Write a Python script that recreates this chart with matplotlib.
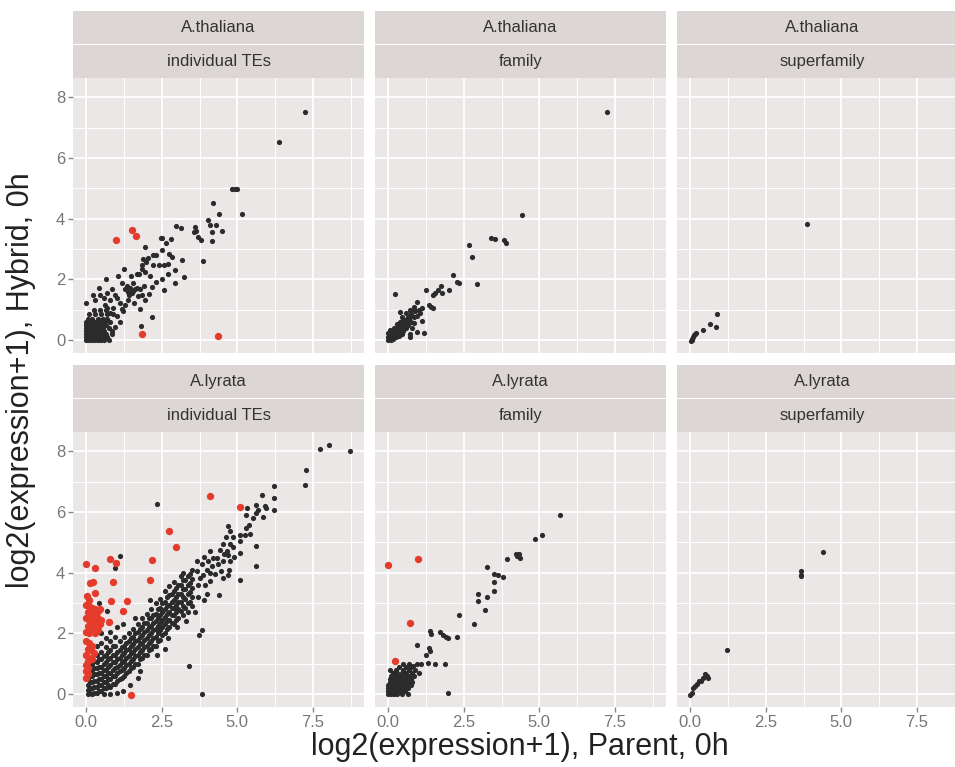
import numpy as np
import matplotlib
matplotlib.use("Agg")
import matplotlib.pyplot as plt

plt.rcParams["font.family"] = ["Liberation Sans", "DejaVu Sans"]

# ============================================
# Data
# ============================================
species = ["A.thaliana", "A.lyrata"]
levels = ["individual TEs", "family", "superfamily"]

x_ticks = [0.0, 2.5, 5.0, 7.5]
x_tick_labels = ["0.0", "2.5", "5.0", "7.5"]
y_ticks = [0, 2, 4, 6, 8]
y_tick_labels = ["0", "2", "4", "6", "8"]

# A.thaliana / individual TEs
ath_te_black = [
    (7.23, 7.52), (6.38, 6.53), (4.81, 4.98), (4.92, 4.98), (5.0, 4.97), (5.14, 4.15),
    (4.19, 4.5), (4.38, 4.17), (4.02, 3.97), (4.08, 3.78), (4.28, 3.78), (4.48, 3.59),
    (4.17, 3.56), (4.15, 3.28), (3.59, 3.72), (3.64, 3.61), (3.55, 3.56), (3.7, 3.39),
    (3.8, 3.31), (3.86, 2.61), (2.96, 3.76), (3.15, 3.69), (2.46, 3.36), (2.52, 3.36),
    (2.65, 3.2), (2.8, 3.33), (1.94, 3.06), (2.52, 2.98), (2.74, 2.83), (2.84, 2.74),
    (3.18, 2.63), (2.21, 2.8), (2.32, 2.8), (2.05, 2.72), (1.89, 2.67), (1.97, 2.58),
    (1.83, 2.47), (2.21, 2.47), (2.41, 2.47), (2.57, 2.47), (2.71, 2.5), (2.93, 2.31),
    (1.25, 2.33), (1.83, 2.33), (1.94, 2.24), (1.75, 2.17), (2.1, 2.11), (2.51, 2.03),
    (2.3, 1.92), (2.71, 2.17), (3.22, 2.08), (2.93, 1.87), (2.57, 1.64), (1.06, 2.11),
    (0.65, 2.02), (1.17, 1.89), (1.47, 2.11), (1.67, 2.17), (1.34, 1.8), (1.45, 1.72),
    (1.28, 1.67), (1.39, 1.58), (1.54, 1.87), (1.61, 1.67), (1.5, 1.56), (1.67, 1.72),
    (1.78, 1.67), (1.91, 1.78), (1.83, 1.5), (2.08, 1.52), (1.94, 1.33), (2.18, 1.76),
    (1.72, 1.47), (0.41, 1.72), (0.46, 1.5), (0.21, 1.5), (0.68, 1.56), (0.84, 1.67),
    (0.95, 1.5), (0.0, 1.24), (0.3, 1.33), (0.57, 1.39), (0.79, 1.33), (1.01, 1.39),
    (1.12, 1.22), (0.63, 1.17), (0.9, 1.06), (1.17, 1.02), (1.28, 1.17), (1.39, 1.33),
    (1.59, 1.24), (1.78, 1.02), (2.19, 0.76), (1.81, 0.48), (1.55, 1.62), (1.42, 1.48),
    (0.8, 0.9), (1.0, 0.8), (1.1, 0.6), (0.95, 0.45), (0.85, 0.3), (1.2, 0.95), (0.7, 1.05),
    # dense cluster near the origin
    (0.0, 0.0), (0.1, 0.0), (0.2, 0.0), (0.3, 0.0), (0.4, 0.0), (0.5, 0.0), (0.6, 0.0), (0.75, 0.0),
    (0.0, 0.1), (0.1, 0.1), (0.2, 0.1), (0.3, 0.1), (0.4, 0.1), (0.5, 0.1), (0.6, 0.1), (0.7, 0.1),
    (0.0, 0.2), (0.1, 0.2), (0.2, 0.2), (0.3, 0.2), (0.4, 0.2), (0.5, 0.2), (0.65, 0.2), (0.85, 0.2),
    (0.0, 0.3), (0.1, 0.3), (0.2, 0.3), (0.3, 0.3), (0.4, 0.3), (0.5, 0.3), (0.6, 0.3),
    (0.0, 0.4), (0.1, 0.4), (0.2, 0.4), (0.3, 0.4), (0.4, 0.4), (0.55, 0.4), (0.75, 0.4),
    (0.0, 0.5), (0.1, 0.5), (0.2, 0.5), (0.35, 0.5), (0.5, 0.5), (0.65, 0.5),
    (0.0, 0.6), (0.15, 0.6), (0.3, 0.6), (0.45, 0.6), (0.6, 0.6), (0.8, 0.6),
    (0.05, 0.7), (0.2, 0.7), (0.4, 0.7), (0.55, 0.7), (0.7, 0.7),
    (0.1, 0.85), (0.3, 0.85), (0.5, 0.85), (0.7, 0.85), (0.9, 0.85),
    (0.25, 1.0), (0.45, 1.0), (0.65, 1.0),
    (0.05, 0.05), (0.15, 0.15), (0.25, 0.05), (0.35, 0.15), (0.45, 0.05), (0.55, 0.15),
    (0.05, 0.25), (0.15, 0.35), (0.25, 0.25), (0.35, 0.35), (0.45, 0.25), (0.55, 0.3),
    (0.05, 0.45), (0.15, 0.5), (0.25, 0.45), (0.4, 0.55), (0.5, 0.65), (0.65, 0.65),
]
ath_te_red = [(0.99, 3.3), (1.5, 3.63), (1.64, 3.42), (1.83, 0.22), (4.36, 0.14)]

# A.thaliana / family
ath_fam_black = [
    (7.25, 7.52), (4.41, 4.11), (3.41, 3.37), (3.53, 3.32), (3.82, 3.29), (3.91, 3.21),
    (2.68, 3.15), (2.76, 2.74), (2.94, 1.86), (2.13, 2.16), (2.28, 1.93), (2.34, 1.9),
    (2.0, 1.64), (1.74, 1.77), (1.65, 1.66), (1.56, 1.57), (1.47, 1.49), (1.78, 1.57),
    (1.24, 1.64), (0.21, 1.52), (1.34, 1.16), (1.47, 1.05), (1.4, 1.1), (0.94, 1.27),
    (0.84, 1.1), (0.71, 0.99), (0.59, 0.88), (0.46, 0.77), (0.4, 0.94), (1.12, 0.63),
    (0.96, 0.28), (1.18, 0.24), (0.78, 0.39), (0.71, 0.11), (0.84, 0.57), (0.64, 0.5),
    (0.71, 0.22),
    (0.0, 0.0), (0.05, 0.05), (0.1, 0.0), (0.1, 0.1), (0.15, 0.2), (0.2, 0.1), (0.2, 0.25),
    (0.25, 0.35), (0.3, 0.2), (0.3, 0.4), (0.35, 0.3), (0.4, 0.45), (0.45, 0.35), (0.5, 0.55),
    (0.55, 0.45), (0.6, 0.65), (0.65, 0.75), (0.7, 0.7), (0.75, 0.85), (0.8, 0.8), (0.9, 0.95),
    (1.0, 1.0), (0.0, 0.1), (0.05, 0.2), (0.1, 0.3), (0.0, 0.25), (0.15, 0.05), (0.25, 0.1),
    (0.35, 0.15), (0.45, 0.2), (0.5, 0.3), (0.55, 0.6), (0.2, 0.4), (0.3, 0.55), (0.4, 0.6),
    (0.15, 0.35), (0.05, 0.35), (0.6, 0.4), (0.65, 0.55), (0.75, 0.6), (0.85, 0.75),
    (0.95, 0.8), (1.05, 0.9), (1.1, 1.05), (0.85, 1.0), (0.5, 0.7),
]
ath_fam_red = []

# A.thaliana / superfamily
ath_sup_black = [
    (3.86, 3.81), (0.88, 0.85), (0.85, 0.44), (0.66, 0.53), (0.42, 0.35), (0.17, 0.22),
    (0.1, 0.11), (0.04, 0.0), (0.01, -0.02), (0.07, 0.05), (0.13, 0.17), (0.2, 0.25),
]
ath_sup_red = []

# A.lyrata / individual TEs
aly_te_black = [
    (7.72, 8.07), (8.03, 8.21), (8.74, 7.99), (7.26, 7.39), (7.25, 6.87), (6.2, 6.84),
    (6.2, 6.46), (6.2, 6.07), (5.8, 6.55), (5.91, 6.18), (5.96, 6.13), (5.85, 5.82),
    (5.63, 6.24), (5.69, 6.07), (5.61, 5.96), (5.52, 5.8), (5.32, 6.13), (5.28, 5.89),
    (5.63, 4.87), (5.63, 4.21), (5.39, 5.58), (5.3, 5.47), (5.25, 5.25), (5.43, 5.27),
    (5.08, 5.25), (5.1, 5.03), (5.08, 4.65), (5.08, 3.77),
    (4.68, 5.55), (4.75, 5.36), (4.84, 5.16), (4.62, 5.16), (4.75, 4.95), (4.53, 4.95),
    (4.86, 4.84), (4.64, 4.7), (4.42, 4.76), (4.68, 4.59), (4.75, 4.38), (4.51, 4.38),
    (4.31, 4.48), (4.37, 4.27), (4.73, 4.1), (4.68, 3.94), (4.53, 3.83), (4.39, 3.28),
    (4.09, 4.7), (4.2, 4.48), (4.04, 4.38), (4.15, 4.21), (3.98, 4.1), (3.87, 3.94),
    (4.09, 3.72), (3.93, 3.61), (3.76, 3.83), (3.71, 3.61), (3.65, 4.05), (3.82, 4.27),
    (3.65, 4.38), (3.89, 3.11), (3.82, 2.13), (3.74, 1.96), (3.4, 0.94), (3.82, 0.01),
    (2.33, 6.26), (1.12, 4.54), (0.96, 4.16), (0.43, 3.0), (0.67, 2.73), (0.75, 2.4),
    (2.72, 1.85), (2.33, 1.3), (1.77, 0.76),
    (2.6, 1.5), (3.0, 2.2), (2.1, 3.1), (1.6, 2.5), (3.3, 2.4), (1.0, 2.2), (1.2, 2.3),
    (3.7, 3.2), (3.6, 2.7), (4.0, 3.3), (4.25, 3.95), (4.45, 4.05), (4.55, 4.6), (4.9, 4.5),
    (3.9, 4.5), (4.1, 4.0),
    # main diagonal band
    (3.5, 2.9), (3.5, 3.2), (3.5, 3.5), (3.5, 3.8), (3.5, 4.1),
    (3.35, 2.7), (3.35, 3.0), (3.35, 3.3), (3.35, 3.6), (3.35, 3.9),
    (3.2, 2.6), (3.2, 2.9), (3.2, 3.2), (3.2, 3.45), (3.2, 3.75), (3.2, 4.0),
    (3.05, 2.5), (3.05, 2.8), (3.05, 3.05), (3.05, 3.3), (3.05, 3.6),
    (2.9, 2.3), (2.9, 2.6), (2.9, 2.85), (2.9, 3.1), (2.9, 3.4), (2.9, 3.7),
    (2.75, 2.2), (2.75, 2.45), (2.75, 2.7), (2.75, 2.95), (2.75, 3.25), (2.75, 3.55),
    (2.6, 2.0), (2.6, 2.3), (2.6, 2.55), (2.6, 2.8), (2.6, 3.05), (2.6, 3.4),
    (2.45, 1.8), (2.45, 2.1), (2.45, 2.35), (2.45, 2.6), (2.45, 2.85), (2.45, 3.15),
    (2.3, 1.6), (2.3, 1.9), (2.3, 2.15), (2.3, 2.4), (2.3, 2.65), (2.3, 3.0),
    (2.15, 1.5), (2.15, 1.75), (2.15, 2.0), (2.15, 2.25), (2.15, 2.5), (2.15, 2.8),
    (2.0, 1.3), (2.0, 1.6), (2.0, 1.85), (2.0, 2.1), (2.0, 2.35), (2.0, 2.65),
    (1.85, 1.2), (1.85, 1.45), (1.85, 1.7), (1.85, 1.95), (1.85, 2.2), (1.85, 2.5),
    (1.7, 1.0), (1.7, 1.3), (1.7, 1.55), (1.7, 1.8), (1.7, 2.05), (1.7, 2.3),
    (1.55, 0.9), (1.55, 1.15), (1.55, 1.4), (1.55, 1.65), (1.55, 1.9), (1.55, 2.15),
    (1.4, 0.75), (1.4, 1.0), (1.4, 1.25), (1.4, 1.5), (1.4, 1.75), (1.4, 2.0),
    (1.25, 0.6), (1.25, 0.85), (1.25, 1.1), (1.25, 1.35), (1.25, 1.6), (1.25, 1.9),
    (1.1, 0.5), (1.1, 0.75), (1.1, 0.95), (1.1, 1.2), (1.1, 1.45), (1.1, 1.75),
    (0.95, 0.35), (0.95, 0.6), (0.95, 0.85), (0.95, 1.05), (0.95, 1.3), (0.95, 1.6), (0.95, 1.9),
    (0.8, 0.25), (0.8, 0.5), (0.8, 0.7), (0.8, 0.95), (0.8, 1.2), (0.8, 1.45), (0.8, 1.75), (0.8, 2.05),
    (0.65, 0.2), (0.65, 0.4), (0.65, 0.6), (0.65, 0.8), (0.65, 1.05), (0.65, 1.3), (0.65, 1.55), (0.65, 1.85),
    (0.5, 0.1), (0.5, 0.3), (0.5, 0.5), (0.5, 0.7), (0.5, 0.9), (0.5, 1.15), (0.5, 1.4), (0.5, 1.7), (0.5, 2.0),
    (0.35, 0.05), (0.35, 0.25), (0.35, 0.45), (0.35, 0.65), (0.35, 0.85), (0.35, 1.05), (0.35, 1.3), (0.35, 1.6),
    (0.2, 0.0), (0.2, 0.2), (0.2, 0.4), (0.2, 0.6), (0.2, 0.8), (0.2, 1.0), (0.2, 1.2), (0.2, 1.5),
    (0.05, 0.0), (0.05, 0.15), (0.05, 0.3), (0.05, 0.5), (0.05, 0.7), (0.05, 0.9), (0.05, 1.1),
    (0.6, 0.0), (0.8, 0.0), (1.0, 0.05), (1.2, 0.1), (1.45, 0.3), (1.7, 0.55),
    # staggered second layer of the band
    (3.42, 3.05), (3.42, 3.35), (3.42, 3.65), (3.42, 3.95),
    (3.27, 2.85), (3.27, 3.15), (3.27, 3.45), (3.27, 3.75),
    (3.12, 2.75), (3.12, 3.05), (3.12, 3.3), (3.12, 3.6), (3.12, 3.9),
    (2.97, 2.45), (2.97, 2.7), (2.97, 2.95), (2.97, 3.2), (2.97, 3.5),
    (2.82, 2.35), (2.82, 2.6), (2.82, 2.85), (2.82, 3.05), (2.82, 3.3),
    (2.67, 2.15), (2.67, 2.4), (2.67, 2.65), (2.67, 2.9), (2.67, 3.2),
    (2.52, 1.95), (2.52, 2.2), (2.52, 2.45), (2.52, 2.7), (2.52, 3.0),
    (2.37, 1.75), (2.37, 2.0), (2.37, 2.25), (2.37, 2.5), (2.37, 2.8),
    (2.22, 1.6), (2.22, 1.85), (2.22, 2.1), (2.22, 2.35), (2.22, 2.6),
    (2.07, 1.45), (2.07, 1.7), (2.07, 1.95), (2.07, 2.2), (2.07, 2.5),
    (1.92, 1.3), (1.92, 1.55), (1.92, 1.8), (1.92, 2.05), (1.92, 2.35),
    (1.77, 1.15), (1.77, 1.4), (1.77, 1.65), (1.77, 1.9), (1.77, 2.15),
    (1.62, 1.0), (1.62, 1.25), (1.62, 1.5), (1.62, 1.75), (1.62, 2.0),
    (1.47, 0.85), (1.47, 1.1), (1.47, 1.35), (1.47, 1.6), (1.47, 1.85),
    (1.32, 0.7), (1.32, 0.95), (1.32, 1.2), (1.32, 1.45), (1.32, 1.7),
    (1.17, 0.55), (1.17, 0.8), (1.17, 1.05), (1.17, 1.3), (1.17, 1.55),
    (1.02, 0.45), (1.02, 0.7), (1.02, 0.9), (1.02, 1.15), (1.02, 1.4),
    (0.87, 0.35), (0.87, 0.6), (0.87, 0.8), (0.87, 1.05), (0.87, 1.3), (0.87, 1.6),
    (0.72, 0.3), (0.72, 0.5), (0.72, 0.7), (0.72, 0.9), (0.72, 1.15), (0.72, 1.4),
    (0.57, 0.2), (0.57, 0.4), (0.57, 0.6), (0.57, 0.8), (0.57, 1.0), (0.57, 1.25),
    (0.42, 0.1), (0.42, 0.3), (0.42, 0.5), (0.42, 0.7), (0.42, 0.9), (0.42, 1.15),
    (0.27, 0.05), (0.27, 0.25), (0.27, 0.45), (0.27, 0.65), (0.27, 0.85), (0.27, 1.1),
    (0.12, 0.05), (0.12, 0.2), (0.12, 0.4), (0.12, 0.6), (0.12, 0.8), (0.12, 1.0),
]
aly_te_red = [
    (4.09, 6.51), (5.1, 6.16), (2.74, 5.38), (2.96, 4.84), (2.19, 4.41), (2.1, 3.75),
    (0.79, 4.45), (0.99, 4.32), (0.0, 4.29), (0.28, 4.16), (0.13, 3.66), (0.22, 3.7),
    (0.87, 3.68), (0.3, 3.33), (0.02, 3.22), (0.08, 3.11), (0.82, 3.06), (1.34, 3.08),
    (1.21, 2.73), (0.76, 2.38), (1.48, -0.01),
    (0.0, 2.95), (0.1, 2.9), (0.2, 2.85), (0.3, 2.8), (0.4, 2.75), (0.05, 2.7), (0.15, 2.65),
    (0.25, 2.6), (0.35, 2.55), (0.0, 2.5), (0.1, 2.45), (0.2, 2.4), (0.3, 2.35), (0.45, 2.3),
    (0.05, 2.25), (0.15, 2.2), (0.25, 2.15), (0.4, 2.1), (0.0, 2.05), (0.1, 2.0), (0.3, 2.0),
    (0.5, 2.45), (0.45, 2.8),
    (0.0, 1.75), (0.1, 1.7), (0.2, 1.6), (0.05, 1.5), (0.15, 1.45), (0.25, 1.35), (0.0, 1.3),
    (0.1, 1.2), (0.2, 1.15), (0.05, 1.1),
    (0.0, 0.95), (0.05, 0.85), (0.0, 0.75), (0.05, 0.65), (0.0, 0.55),
]

# A.lyrata / family
aly_fam_black = [
    (5.69, 5.89), (4.85, 5.12), (5.1, 5.25), (3.93, 4.46), (4.22, 4.6), (4.32, 4.62),
    (4.35, 4.48), (4.26, 4.54), (3.28, 4.18), (3.49, 3.96), (3.62, 3.91), (3.81, 3.85),
    (3.49, 3.69), (3.49, 3.41), (2.98, 3.31), (2.96, 3.08), (3.28, 3.21), (3.19, 2.77),
    (2.84, 2.31), (2.35, 2.6), (2.29, 1.9), (1.39, 2.09), (1.42, 1.98), (1.72, 2.05),
    (1.82, 1.96), (1.91, 1.87), (1.99, 1.85), (0.94, 1.63), (1.34, 1.52), (1.37, 1.41),
    (1.24, 1.28), (1.31, 1.03), (0.9, 0.81), (0.81, 0.92), (0.94, 0.98), (1.08, 0.98),
    (1.53, 1.0), (1.87, 1.0), (1.97, 0.04), (0.65, 0.01),
    (0.0, 0.0), (0.1, 0.0), (0.2, 0.0), (0.3, 0.0), (0.45, 0.0),
    (0.0, 0.1), (0.1, 0.1), (0.2, 0.1), (0.3, 0.1), (0.4, 0.1), (0.55, 0.1),
    (0.0, 0.2), (0.1, 0.2), (0.2, 0.2), (0.3, 0.2), (0.4, 0.2), (0.5, 0.2), (0.65, 0.2),
    (0.0, 0.3), (0.1, 0.3), (0.2, 0.3), (0.3, 0.3), (0.45, 0.3), (0.6, 0.3), (0.75, 0.3),
    (0.05, 0.4), (0.15, 0.4), (0.25, 0.4), (0.35, 0.4), (0.5, 0.4), (0.65, 0.4), (0.8, 0.4),
    (0.05, 0.5), (0.15, 0.5), (0.3, 0.5), (0.45, 0.5), (0.6, 0.5), (0.75, 0.5),
    (0.1, 0.6), (0.25, 0.6), (0.4, 0.6), (0.55, 0.6), (0.7, 0.6), (0.85, 0.6),
    (0.15, 0.7), (0.3, 0.7), (0.45, 0.7), (0.6, 0.7), (0.8, 0.7), (1.0, 0.7),
    (0.05, 0.8), (0.25, 0.8), (0.5, 0.8), (0.7, 0.8),
    (0.35, 0.9), (0.6, 0.9), (0.75, 0.9),
    (0.5, 1.0), (0.7, 1.0),
]
aly_fam_red = [(-0.01, 4.25), (0.99, 4.44), (0.73, 2.33), (0.21, 1.09)]

# A.lyrata / superfamily
aly_sup_black = [
    (4.39, 4.67), (3.65, 4.05), (3.65, 3.94), (3.67, 3.88), (1.2, 1.44), (0.48, 0.67),
    (0.6, 0.54), (0.42, 0.52), (0.29, 0.43), (0.23, 0.34), (0.17, 0.26), (0.1, 0.19),
    (0.04, 0.04), (-0.02, -0.01), (0.54, 0.59), (0.35, 0.45),
]
aly_sup_red = []

panels = [
    [(ath_te_black, ath_te_red), (ath_fam_black, ath_fam_red), (ath_sup_black, ath_sup_red)],
    [(aly_te_black, aly_te_red), (aly_fam_black, aly_fam_red), (aly_sup_black, aly_sup_red)],
]

# ============================================
# Layout (pixels of a 955x767 picture)
# ============================================
W, H = 955, 767
fig = plt.figure(figsize=(W / 100, H / 100), dpi=100)
fig.patch.set_facecolor("white")


def px_axes(left, top, width, height):
    return fig.add_axes([left / W, 1 - (top + height) / H, width / W, height / H])


col_left = [73, 375, 677]
panel_w = 291
row_top = [78, 432]
panel_h = 275
strip_h = 33

panel_bg = "#EAE7E6"
strip_bg = "#DCD7D5"
grey_txt = "#777777"

for r in range(2):
    for c in range(3):
        ax = px_axes(col_left[c], row_top[r], panel_w, panel_h)
        ax.set_facecolor(panel_bg)
        ax.set_xlim(-0.44, 9.19)
        ax.set_ylim(-0.42, 8.63)
        ax.set_xticks(x_ticks)
        ax.set_xticks([1.25, 3.75, 6.25, 8.75], minor=True)
        ax.set_yticks(y_ticks)
        ax.set_yticks([1, 3, 5, 7], minor=True)
        ax.grid(which="major", color="white", lw=1.3)
        ax.grid(which="minor", color="white", lw=0.7)
        ax.set_axisbelow(True)
        for s in ax.spines.values():
            s.set_visible(False)
        ax.tick_params(which="minor", length=0)
        ax.tick_params(which="major", colors="#888888", labelcolor=grey_txt,
                       labelsize=12, length=3.5, width=1.0, pad=2)
        if c == 0:
            ax.set_yticklabels(y_tick_labels)
        else:
            ax.tick_params(axis="y", length=0, labelleft=False)
        if r == 1:
            ax.set_xticklabels(x_tick_labels)
        else:
            ax.tick_params(axis="x", length=0, labelbottom=False)

        black, red = panels[r][c]
        if black:
            b = np.array(black)
            ax.scatter(b[:, 0], b[:, 1], s=14, c="#2b2b2b", linewidths=0, zorder=3)
        if red:
            rd = np.array(red)
            ax.scatter(rd[:, 0], rd[:, 1], s=28, c="#E53B2C", linewidths=0, zorder=4)

        # two strips on top (species, level)
        for k, label in enumerate([species[r], levels[c]]):
            top = row_top[r] - 2 * strip_h - 1 + k * (strip_h + 1)
            sax = px_axes(col_left[c], top, panel_w, strip_h)
            sax.set_facecolor(strip_bg)
            sax.set_xticks([])
            sax.set_yticks([])
            for s in sax.spines.values():
                s.set_visible(False)
            sax.text(0.5, 0.5, label, ha="center", va="center", fontsize=12,
                     color="#333333", transform=sax.transAxes)

fig.text(520 / W, 1 - 747 / H, "log2(expression+1), Parent, 0h",
         ha="center", va="center", fontsize=22, color="#222222")
fig.text(21 / W, 1 - 380 / H, "log2(expression+1), Hybrid, 0h",
         ha="center", va="center", rotation=90, fontsize=22, color="#222222")

fig.savefig("out.png", dpi=100)
